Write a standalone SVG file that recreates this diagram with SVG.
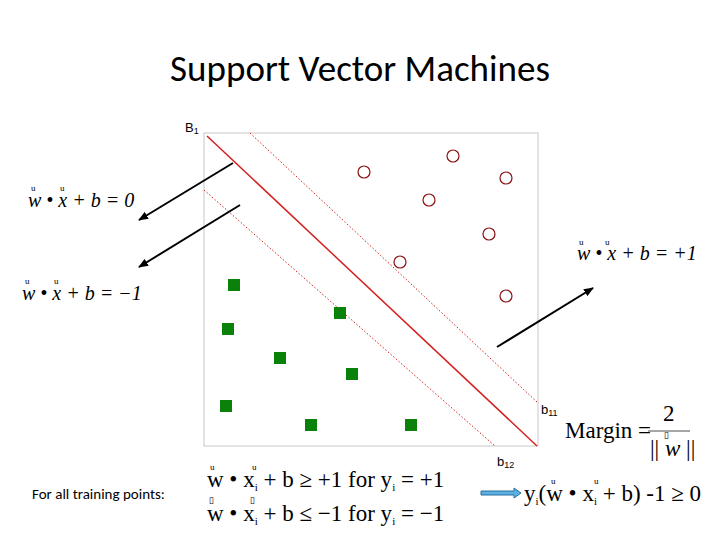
<svg xmlns="http://www.w3.org/2000/svg" width="720" height="540" viewBox="0 0 720 540">
<style>
.m{font-family:"Liberation Serif",serif;font-size:20px;fill:#000}
.b{font-size:23px}
.v{font-family:"Liberation Serif",serif;font-size:9px}
.s{font-family:"Liberation Sans",sans-serif;font-size:13px}
.c{fill:none;stroke:#8a1010;stroke-width:1.2}
.q{fill:#0a820a}
</style>
<defs><marker id="a" markerWidth="10" markerHeight="8" refX="9" refY="4" orient="auto" markerUnits="userSpaceOnUse"><path d="M0,0L10,4L0,8z"/></marker></defs>
<rect width="720" height="540" fill="#fff"/>
<text x="360" y="81" text-anchor="middle" font-family="Calibri,Carlito,'Liberation Sans',sans-serif" font-size="37">Support Vector Machines</text>
<g id="plot">
<rect x="204" y="133" width="334" height="313" fill="none" stroke="#c8c8c8"/>
<line x1="207" y1="136" x2="537" y2="446" stroke="#d42020" stroke-width="1.5"/>
<line x1="250" y1="133" x2="538" y2="403" stroke="#d42020" stroke-dasharray="1.5,2"/>
<line x1="204" y1="190" x2="495" y2="446" stroke="#d42020" stroke-dasharray="1.5,2"/>
<text class="s" x="185" y="132">B<tspan font-size="9" dy="2">1</tspan></text>
<text class="s" x="541" y="414">b<tspan font-size="9" dy="2">11</tspan></text>
<text class="s" x="497" y="466">b<tspan font-size="9" dy="2">12</tspan></text>
</g>
<g id="circles">
<circle class="c" cx="364" cy="172" r="6"/><circle class="c" cx="453" cy="156" r="6"/><circle class="c" cx="506" cy="178" r="6"/><circle class="c" cx="429" cy="200" r="6"/><circle class="c" cx="489" cy="234" r="6"/><circle class="c" cx="400" cy="262" r="6"/><circle class="c" cx="506" cy="296" r="6"/>
</g>
<g id="squares">
<rect class="q" x="228" y="279" width="12" height="12"/><rect class="q" x="334" y="307" width="12" height="12"/><rect class="q" x="222" y="323" width="12" height="12"/><rect class="q" x="274" y="352" width="12" height="12"/><rect class="q" x="346" y="368" width="12" height="12"/><rect class="q" x="220" y="400" width="12" height="12"/><rect class="q" x="305" y="419" width="12" height="12"/><rect class="q" x="405" y="419" width="12" height="12"/>
</g>
<g id="connectors" stroke="#000" stroke-width="2">
<line x1="233" y1="163" x2="139" y2="220" marker-end="url(#a)"/>
<line x1="240" y1="205" x2="139" y2="267" marker-end="url(#a)"/>
<line x1="497" y1="347" x2="593" y2="288" marker-end="url(#a)"/>
<path d="M481,491h33v-3l7,5l-7,5v-3h-33z" fill="#5ab0e0" stroke="#2a6fa0" stroke-width="1"/>
</g>
<g id="eq0"><text class="m" x="28" y="207" font-style="italic">w • x + b = 0</text><text class="v" x="31" y="191">u</text><text class="v" x="60" y="191">u</text></g>
<g id="eqm1"><text class="m" x="22" y="300" font-style="italic">w • x + b = −1</text><text class="v" x="25" y="284">u</text><text class="v" x="54" y="284">u</text></g>
<g id="eqp1"><text class="m" x="577" y="260" font-style="italic" font-size="18">w • x + b = +1</text><text class="v" x="579" y="245">u</text><text class="v" x="605" y="245">u</text></g>
<g id="margin"><text class="m b" x="565" y="438">Margin =</text><text class="m b" x="663" y="421">2</text><line x1="648" y1="431" x2="690" y2="431" stroke="#888" stroke-width="1.5"/><text class="m b" x="650" y="456">|| <tspan font-style="italic">w</tspan> ||</text><text class="v" x="664" y="438">▯</text></g>
<text x="32" y="499" font-family="Calibri,Carlito,'Liberation Sans',sans-serif" font-size="15">For all training points:</text>
<g id="ineq1"><text class="m b" x="207" y="487">w • x<tspan font-size="11" dy="4">i</tspan><tspan dy="-4"> + b ≥ +1 for y</tspan><tspan font-size="11" dy="4">i</tspan><tspan dy="-4"> = +1</tspan></text><text class="v" x="210" y="470">u</text><text class="v" x="252" y="470">u</text></g>
<g id="ineq2"><text class="m b" x="207" y="521">w • x<tspan font-size="11" dy="4">i</tspan><tspan dy="-4"> + b ≤ −1 for y</tspan><tspan font-size="11" dy="4">i</tspan><tspan dy="-4"> = −1</tspan></text><text class="v" x="209" y="503" font-size="12">▯</text><text class="v" x="250" y="503" font-size="12">▯</text></g>
<g id="combined"><text class="m b" x="524" y="501">y<tspan font-size="11" dy="4">i</tspan><tspan dy="-4">(w • x</tspan><tspan font-size="11" dy="4">i</tspan><tspan dy="-4"> + b) -1 ≥ 0</tspan></text><text class="v" x="551" y="484">u</text><text class="v" x="594" y="484">u</text></g>
</svg>
